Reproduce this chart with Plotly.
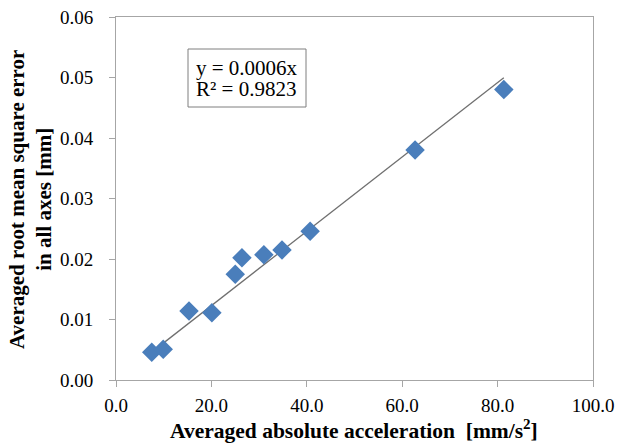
import numpy as np
import plotly.graph_objects as go

acc = [7.5, 9.9, 15.3, 20.1, 25.0, 26.4, 31.0, 34.8, 40.7, 62.7, 81.3]
rmse = [0.0046, 0.0051, 0.0114, 0.0111, 0.0175, 0.0202, 0.0207, 0.0215, 0.0246, 0.0380, 0.0480]
x_ticks = [0, 20, 40, 60, 80, 100]
y_ticks = [0, 0.01, 0.02, 0.03, 0.04, 0.05, 0.06]

xa = np.array(acc)
ya = np.array(rmse)
slope = float((xa * ya).sum() / (xa * xa).sum())
fit_x = [min(acc), max(acc)]
fit_y = [slope * v for v in fit_x]

font = "Liberation Serif, Times New Roman, serif"
axcol = "#a6a6a6"
W, H = 617, 446
L, R, T, B = 116, 24, 17, 66
pw, ph = W - L - R, H - T - B


def px(xp):
    return (xp - L) / pw


def py(yp):
    return (H - B - yp) / ph


fig = go.Figure()
fig.add_trace(go.Scatter(x=fit_x, y=fit_y, mode="lines",
                         line=dict(color="#707070", width=1.3), hoverinfo="skip"))
fig.add_trace(go.Scatter(x=acc, y=rmse, mode="markers",
                         marker=dict(symbol="diamond", size=15, color="#4a7ebb")))

fig.update_layout(
    width=W, height=H,
    margin=dict(l=L, r=R, t=T, b=B, autoexpand=False),
    paper_bgcolor="white", plot_bgcolor="white",
    showlegend=False,
    font=dict(family=font, size=19, color="black"),
    xaxis=dict(range=[0, 100], tickvals=x_ticks,
               ticktext=[f"{v:.1f}" for v in x_ticks],
               showgrid=False, zeroline=False, showline=True, linecolor=axcol,
               linewidth=1, mirror=True, ticks="outside", tickcolor=axcol, ticklen=6,
               tickfont=dict(family=font, size=19, color="black"),
               ticklabelstandoff=2, automargin=False),
    yaxis=dict(range=[0, 0.06], tickvals=y_ticks,
               ticktext=[f"{v:.2f}" for v in y_ticks],
               showgrid=False, zeroline=False, showline=True, linecolor=axcol,
               linewidth=1, mirror=True, ticks="outside", tickcolor=axcol, ticklen=6,
               tickfont=dict(family=font, size=19, color="black"),
               ticklabelstandoff=12, automargin=False),
)

# axis titles
fig.add_annotation(xref="paper", yref="paper", x=px(354), y=py(445),
                   xanchor="center", yanchor="bottom", showarrow=False,
                   text="<b>Averaged absolute acceleration  [mm/s<sup>2</sup>]</b>",
                   font=dict(family=font, size=21.5, color="black"))
fig.add_annotation(xref="paper", yref="paper", x=px(30), y=py(200),
                   xanchor="center", yanchor="middle", showarrow=False, textangle=-90,
                   text="<b>Averaged root mean square error<br>in all axes [mm]</b>",
                   font=dict(family=font, size=21, color="black"))

# equation box
fig.add_shape(type="rect", xref="paper", yref="paper",
              x0=px(188), x1=px(306), y0=py(107), y1=py(49),
              line=dict(color="#7f7f7f", width=1), fillcolor="white", layer="above")
fig.add_annotation(xref="paper", yref="paper", x=px(194), y=py(68),
                   xanchor="left", yanchor="middle", showarrow=False,
                   text="y = 0.0006x", font=dict(family=font, size=21, color="black"))
fig.add_annotation(xref="paper", yref="paper", x=px(194), y=py(89),
                   xanchor="left", yanchor="middle", showarrow=False,
                   text="R² = 0.9823", font=dict(family=font, size=21, color="black"))

fig.write_html("out.html", config={"displayModeBar": False},
               post_script="document.body.style.margin='0px';document.body.style.overflow='hidden';")
